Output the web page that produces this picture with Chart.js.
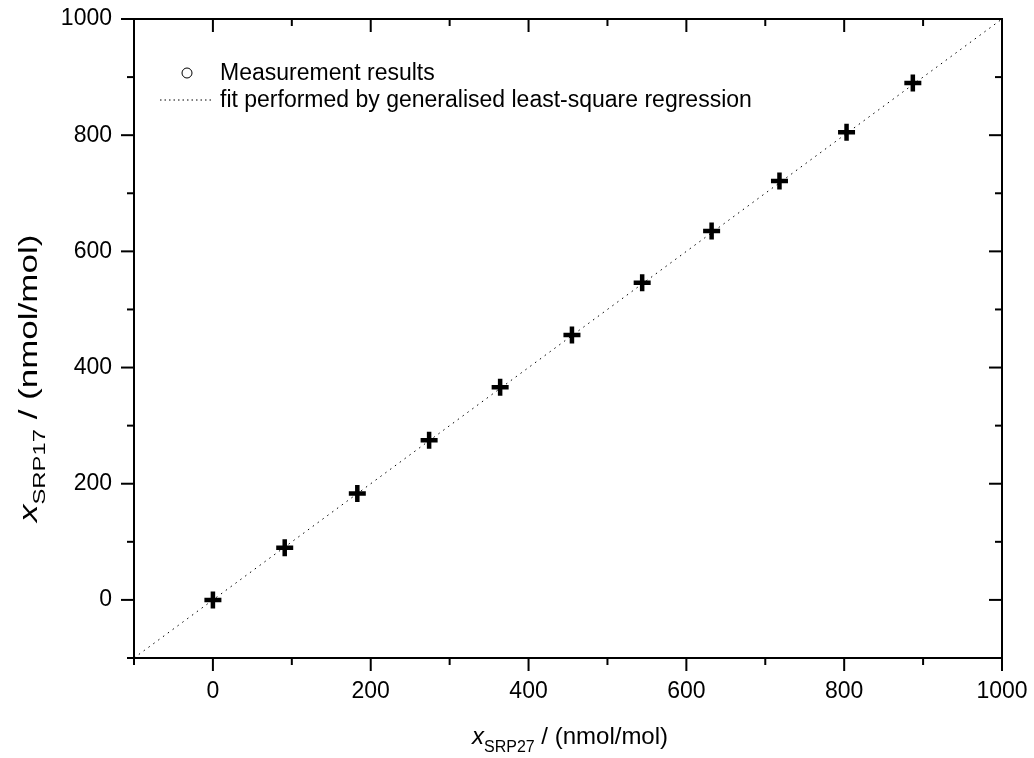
<!DOCTYPE html>
<html>
<head>
<meta charset="utf-8">
<script src="https://cdn.jsdelivr.net/npm/chart.js@4/dist/chart.umd.min.js"></script>
<style>
  body { margin: 0; background: #fff; }
  #wrap { width: 1034px; height: 758px; position: relative; }
</style>
</head>
<body>
<div id="wrap"><canvas id="chart"></canvas></div>
<script>
// measured values, SRP27 vs SRP17 (nmol/mol)
const xSrp27 = [0, 91, 183, 274, 364, 455, 544, 632, 718, 803, 887];
const ySrp17 = [0, 90, 183, 275, 366, 456, 546, 635, 721, 805, 890];

// fit line (generalised least-square regression, y = x)
const fitX = [-100, 1000];
const fitY = [-100, 1000];

const majorTicks = [0, 200, 400, 600, 800, 1000];
const minorTicks = [-100, 100, 300, 500, 700, 900];

const legendLabels = ['Measurement results', 'fit performed by generalised least-square regression'];

const FONT = '"Liberation Sans", Arial, sans-serif';

const framePlugin = {
    id: 'frame',
    afterDraw(chart) {
        const ctx = chart.ctx;
        const a = chart.chartArea;
        const xs = chart.scales.x, ys = chart.scales.y;
        ctx.save();
        ctx.strokeStyle = '#000';
        ctx.lineWidth = 2;
        ctx.strokeRect(a.left, a.top, a.right - a.left, a.bottom - a.top);

        function tick(x1, y1, x2, y2) {
            ctx.beginPath();
            ctx.moveTo(x1, y1);
            ctx.lineTo(x2, y2);
            ctx.stroke();
        }
        [[majorTicks, 13], [minorTicks, 7]].forEach(([list, len]) => {
            list.forEach(v => {
                const px = xs.getPixelForValue(v);
                const py = ys.getPixelForValue(v);
                tick(px, a.bottom, px, a.bottom + len);   // bottom, outward
                tick(px, a.top, px, a.top + len);         // top, inward
                tick(a.left, py, a.left - len, py);       // left, outward
                tick(a.right, py, a.right - len, py);     // right, inward
            });
        });

        // axis titles with subscripts
        function title(x, y, sub, size) {
            ctx.fillStyle = '#000';
            ctx.textBaseline = 'alphabetic';
            ctx.textAlign = 'left';
            ctx.font = 'italic ' + size + 'px ' + FONT;
            ctx.fillText('x', x, y);
            x += ctx.measureText('x').width;
            ctx.font = Math.round(size * 0.66) + 'px ' + FONT;
            ctx.fillText(sub, x, y + 8);
            x += ctx.measureText(sub).width;
            ctx.font = size + 'px ' + FONT;
            ctx.fillText(' / (nmol/mol)', x, y);
        }
        title(472, 744, 'SRP27', 24);
        ctx.save();
        ctx.translate(37, 522);
        ctx.rotate(-Math.PI / 2);
        ctx.scale(1.4, 1);   // y title is drawn longer in the original
        title(0, 0, 'SRP17', 25);
        ctx.restore();

        // legend
        ctx.lineWidth = 1;
        ctx.beginPath();
        ctx.arc(187, 73, 5, 0, Math.PI * 2);
        ctx.stroke();
        ctx.setLineDash([1.5, 3]);
        tick(160, 100, 211, 100);
        ctx.setLineDash([]);
        ctx.font = '23px ' + FONT;
        ctx.textBaseline = 'middle';
        ctx.fillText(legendLabels[0], 220, 74);
        ctx.fillText(legendLabels[1], 220, 101);
        ctx.restore();
    }
};

function noPad(s) {
    s.paddingLeft = s.paddingRight = s.paddingTop = s.paddingBottom = 0;
}

new Chart(document.getElementById('chart'), {
    type: 'scatter',
    data: {
        datasets: [
            {
                label: legendLabels[1],
                type: 'line',
                data: fitX.map((x, i) => ({ x: x, y: fitY[i] })),
                borderColor: '#000',
                borderWidth: 1,
                borderDash: [1.5, 4.5],
                pointRadius: 0,
                fill: false,
                order: 2
            },
            {
                label: legendLabels[0],
                data: xSrp27.map((x, i) => ({ x: x, y: ySrp17[i] })),
                pointStyle: 'cross',
                pointRadius: 8.5,
                borderWidth: 4.5,
                borderColor: '#000',
                backgroundColor: '#000',
                order: 1
            }
        ]
    },
    plugins: [framePlugin],
    options: {
        responsive: true,
        maintainAspectRatio: false,
        animation: false,
        layout: { padding: { top: 19, right: 32, left: 0, bottom: 0 } },
        plugins: {
            legend: { display: false },
            tooltip: { enabled: false }
        },
        scales: {
            x: {
                type: 'linear',
                min: -100,
                max: 1000,
                afterBuildTicks: s => { s.ticks = majorTicks.map(v => ({ value: v })); },
                afterFit: s => { s.height = 100; noPad(s); },
                grid: { display: false, drawTicks: false },
                border: { display: false },
                ticks: { color: '#000', font: { family: FONT, size: 23 }, padding: 20, maxRotation: 0,
                         callback: v => String(v) }
            },
            y: {
                type: 'linear',
                min: -100,
                max: 1000,
                afterBuildTicks: s => { s.ticks = majorTicks.map(v => ({ value: v })); },
                afterFit: s => { s.width = 134; noPad(s); },
                grid: { display: false, drawTicks: false },
                border: { display: false },
                ticks: { color: '#000', font: { family: FONT, size: 23 }, padding: 22,
                         callback: v => String(v) }
            }
        }
    }
});
</script>
</body>
</html>
